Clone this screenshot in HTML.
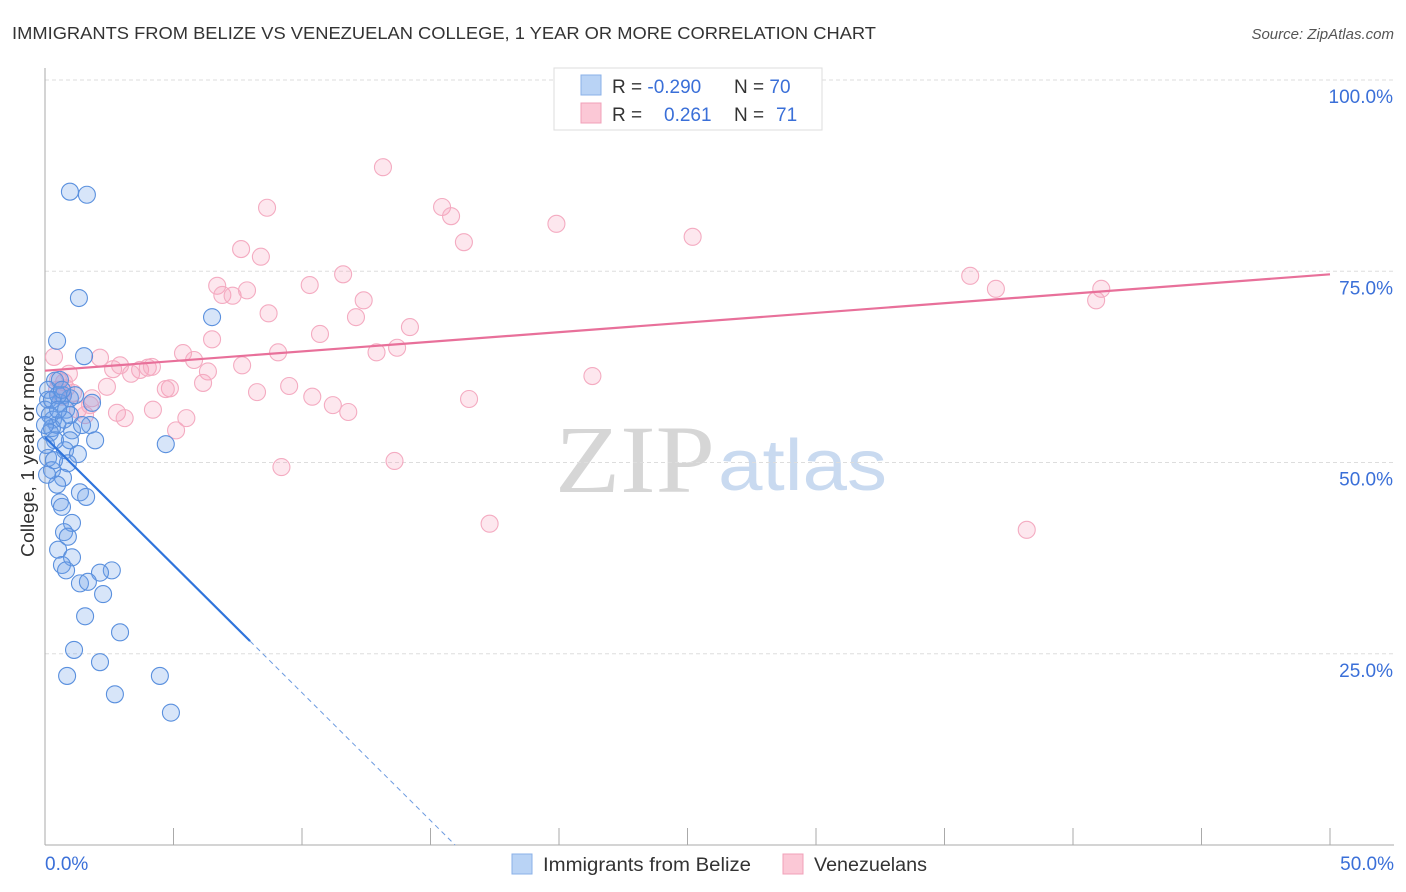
<!DOCTYPE html>
<html><head><meta charset="utf-8"><style>
body{margin:0;background:#fff;font-family:"Liberation Sans",sans-serif;}
svg{display:block}
</style></head><body>
<svg id="chart" width="1406" height="892">
<text x="12" y="39" font-size="17.5" fill="#333" textLength="864" lengthAdjust="spacingAndGlyphs">IMMIGRANTS FROM BELIZE VS VENEZUELAN COLLEGE, 1 YEAR OR MORE CORRELATION CHART</text>
<text x="1394" y="39" font-size="15" fill="#555" font-style="italic" text-anchor="end">Source: ZipAtlas.com</text>
<text transform="translate(34,456) rotate(-90)" font-size="18" fill="#333" text-anchor="middle" textLength="202" lengthAdjust="spacingAndGlyphs">College, 1 year or more</text>
<text x="555" y="492" font-size="96" fill="#d6d6d6" font-family="Liberation Serif,serif" textLength="160" lengthAdjust="spacingAndGlyphs">ZIP</text>
<text x="718" y="490" font-size="72" fill="#c9daf0" textLength="169" lengthAdjust="spacingAndGlyphs">atlas</text>
<g id="grid"></g><g id="axes"></g><g id="pts"></g><g id="lines"></g>
<g>
<rect x="554" y="68" width="268" height="62" fill="#fff" stroke="#ddd"/>
<rect x="581" y="75" width="20" height="20" fill="#b9d3f5" stroke="#8ab0e8"/>
<rect x="581" y="103" width="20" height="20" fill="#fbc8d6" stroke="#f0a0b8"/>
<text x="612" y="93" font-size="19" fill="#333">R = <tspan fill="#3a6fd8">-0.290</tspan><tspan x="734">N = </tspan><tspan fill="#3a6fd8">70</tspan></text>
<text x="612" y="121" font-size="19" fill="#333">R = <tspan x="664" fill="#3a6fd8">0.261</tspan><tspan x="734">N = </tspan><tspan x="776" fill="#3a6fd8">71</tspan></text>
</g>
<g>
<rect x="512" y="854" width="20" height="20" fill="#b9d3f5" stroke="#8ab0e8"/>
<text x="543" y="871" font-size="19" fill="#333" textLength="208" lengthAdjust="spacingAndGlyphs">Immigrants from Belize</text>
<rect x="783" y="854" width="20" height="20" fill="#fbc8d6" stroke="#f0a0b8"/>
<text x="814" y="871" font-size="19" fill="#333" textLength="113" lengthAdjust="spacingAndGlyphs">Venezuelans</text>
</g>
</svg>
<script>
const yTicks=[25,50,75,100];
const yTickLabels=["25.0%","50.0%","75.0%","100.0%"];
const xTicks=[0,5,10,15,20,25,30,35,40,45,50];
const belizeX=[0.97,1.63,1.32,6.5,0.47,1.52,0.39,0.7,0.97,0.12,0.58,1.83,0,0.31,0.47,0.27,1.05,1.75,0.19,0.97,1.95,0.78,1.28,0.12,0.89,4.7,0.27,0.7,0.47,1.36,1.6,0.58,0.66,1.05,0.74,0.89,0.51,1.05,0.66,0.82,2.6,2.14,1.36,1.67,2.26,1.56,2.92,1.13,2.14,0.86,4.47,2.72,4.9,0.12,0.19,0.39,0.58,1.17,0.82,0,0.51,0.35,0.08,0.97,1.44,0.74,0.27,0.04,0.51,0.66];
const belizeY=[85.4,85.0,71.5,69.0,65.9,63.9,60.7,58.8,58.4,58.2,57.8,57.8,56.9,55.6,54.9,54.5,54.2,54.9,53.9,52.9,52.9,51.6,51.1,50.6,49.9,52.4,49.0,48.0,47.1,46.1,45.5,44.8,44.2,42.1,40.9,40.3,38.6,37.6,36.6,35.9,35.9,35.6,34.2,34.4,32.8,29.9,27.8,25.5,23.9,22.1,22.1,19.7,17.3,59.5,56.2,52.9,60.8,58.8,56.9,54.9,58.8,50.3,48.4,56.2,54.9,55.6,58.2,52.3,56.9,59.5];
const venX=[13.15,15.45,15.8,8.64,19.9,16.3,25.2,7.63,8.4,36.0,37.0,41.1,40.9,11.6,10.3,6.7,6.9,7.3,7.86,12.4,8.7,12.1,14.2,10.7,6.5,13.7,12.9,9.07,5.37,0.35,2.14,5.8,2.65,3.7,4.0,6.34,4.16,3.35,7.67,0.93,21.3,0.74,6.15,2.41,4.86,9.5,0.47,4.7,8.25,1.83,10.4,16.5,1.28,11.2,4.2,2.8,3.1,11.8,5.5,1.56,5.1,9.2,13.6,17.3,38.2,0.66,1.09,1.75,0.51,2.92,0.82];
const venY=[88.6,83.4,82.2,83.3,81.2,78.8,79.5,77.9,76.9,74.4,72.7,72.7,71.2,74.6,73.2,73.1,71.9,71.8,72.5,71.2,69.5,69.0,67.7,66.8,66.1,65.0,64.4,64.4,64.3,63.8,63.7,63.4,62.2,62.1,62.4,61.9,62.5,61.6,62.7,61.6,61.3,60.5,60.4,59.9,59.7,60.0,59.5,59.6,59.2,58.4,58.6,58.3,56.9,57.5,56.9,56.5,55.8,56.6,55.8,56.2,54.2,49.4,50.2,42.0,41.2,58.6,59.1,57.5,60.8,62.7,59.7];
const belizeFit=[53.3,-3.34];
const venFit=[62.0,0.252];
const NS="http://www.w3.org/2000/svg";
const X0=45,X1=1330,Y0=845,Y1=80;
function sx(v){return X0+(v/50)*(X1-X0);}
function sy(v){return Y0-(v/100)*(Y0-Y1);}
function mk(t,a,p){const e=document.createElementNS(NS,t);for(const k in a)e.setAttribute(k,a[k]);p.appendChild(e);return e;}
const grid=document.getElementById('grid'),axes=document.getElementById('axes'),pts=document.getElementById('pts'),lines=document.getElementById('lines');
yTicks.forEach((t,i)=>{
 const l=mk('line',{x1:X0,y1:sy(t),x2:1394,y2:sy(t),stroke:'#ddd','stroke-dasharray':'4,3'},grid);
 
 
 const tx=mk('text',{x:1393,y:sy(t)+23,'font-size':19,fill:'#3a6fd8','text-anchor':'end'},axes);
 tx.textContent=yTickLabels[i];
 
 
});
mk('line',{x1:X0,y1:68,x2:X0,y2:Y0,stroke:'#aaa'},axes);
mk('line',{x1:X0,y1:Y0,x2:1394,y2:Y0,stroke:'#aaa'},axes);
xTicks.forEach(t=>{
 const l=mk('line',{x1:sx(t),y1:828,x2:sx(t),y2:Y0,stroke:'#aaa'},axes);
 
 
});
[[0,'0.0%','start',45],[50,'50.0%','end',1394]].forEach(d=>{
 const tx=mk('text',{x:d[3],y:870,'font-size':19,fill:'#3a6fd8','text-anchor':d[2]},axes);
 tx.textContent=d[1];
 
 
});
venX.forEach((v,i)=>{
 const c=mk('circle',{cx:sx(v),cy:sy(venY[i]),r:8.5,fill:'rgba(246,160,188,0.25)',stroke:'#f4abc1','stroke-width':1.1},pts);
 
 
});
belizeX.forEach((v,i)=>{
 const c=mk('circle',{cx:sx(v),cy:sy(belizeY[i]),r:8.5,fill:'rgba(110,160,235,0.28)',stroke:'#5a90de','stroke-width':1.1},pts);
 
 
});
const vl=mk('line',{x1:sx(0),y1:sy(venFit[0]),x2:sx(50),y2:sy(venFit[0]+venFit[1]*50),stroke:'#e8709a','stroke-width':2.2},lines);


const xs=7.98,xz=-belizeFit[0]/belizeFit[1];
const bl=mk('line',{x1:sx(0),y1:sy(belizeFit[0]),x2:sx(xs),y2:sy(belizeFit[0]+belizeFit[1]*xs),stroke:'#2f74dc','stroke-width':2.2},lines);


const bd=mk('line',{x1:sx(xs),y1:sy(belizeFit[0]+belizeFit[1]*xs),x2:sx(xz),y2:sy(0),stroke:'#6d9be0','stroke-width':1,'stroke-dasharray':'5,4'},lines);


</script>
</body></html>
